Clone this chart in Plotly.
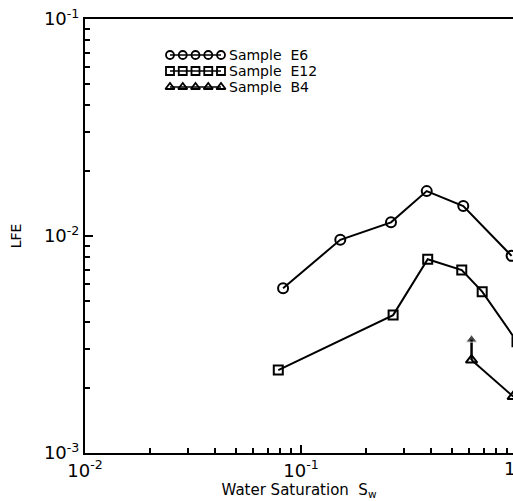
import plotly.graph_objects as go

# --- data ---
e6_x = [0.0826, 0.152, 0.261, 0.382, 0.564, 0.944]
e6_y = [0.00575, 0.0096, 0.01156, 0.0161, 0.01375, 0.0081]

e12_x = [0.0785, 0.267, 0.386, 0.555, 0.690, 1.0]
e12_y = [0.00241, 0.00432, 0.00781, 0.00697, 0.00554, 0.00326]

b4_x = [0.616, 0.96]
b4_y = [0.00268, 0.00182]

# upward arrow above the B4 point (lower bound indicator)
b4_arrow_x = [0.616, 0.616]
b4_arrow_y = [0.00268, 0.00333]

series_names = ["Sample  E6", "Sample  E12", "Sample  B4"]
series_symbols = ["circle-open", "square-open", "triangle-up-open"]

x_tickvals = [0.01, 0.1]
x_ticktext = ["10<sup>-2</sup>", "10<sup>-1</sup>"]
y_tickvals = [0.001, 0.01, 0.1]
y_ticktext = ["10<sup>-3</sup>", "10<sup>-2</sup>", "10<sup>-1</sup>"]

FONT = "DejaVu Sans"
BLACK = "black"

# legend layout (pixel frame of the plot area, used by a hidden overlay axis)
PLOT_L, PLOT_R, PLOT_T, PLOT_B = 85, 513, 19, 453
LEG_SYM_X0, LEG_SYM_X1, LEG_TEXT_X = 170, 221, 227
LEG_ROWS_Y = [55, 71, 87]
LEG_N_SYM = 5

minor_vals = [m * 10 ** e for e in (-3, -2, -1) for m in range(2, 10)]

fig = go.Figure()

data = [(e6_x, e6_y), (e12_x, e12_y), (b4_x, b4_y)]
sizes = [10, 9, 10]
for (xs, ys), name, sym, sz in zip(data, series_names, series_symbols, sizes):
    fig.add_trace(go.Scatter(
        x=xs, y=ys, mode="lines+markers", name=name, showlegend=False,
        line=dict(color=BLACK, width=2),
        marker=dict(symbol=sym, size=sz, color=BLACK, line=dict(width=2)),
    ))

fig.add_trace(go.Scatter(
    x=b4_arrow_x, y=b4_arrow_y, mode="lines+markers", showlegend=False,
    line=dict(color=BLACK, width=2.5),
    marker=dict(symbol=["circle", "triangle-up"], size=[0, 10], color=BLACK),
    hoverinfo="skip",
))

# custom legend: row of five symbols on a line + label
step = (LEG_SYM_X1 - LEG_SYM_X0) / (LEG_N_SYM - 1)
for name, sym, ry in zip(series_names, series_symbols, LEG_ROWS_Y):
    fig.add_trace(go.Scatter(
        x=[LEG_SYM_X0 + i * step for i in range(LEG_N_SYM)],
        y=[ry] * LEG_N_SYM,
        xaxis="x2", yaxis="y2", mode="lines+markers", showlegend=False,
        line=dict(color=BLACK, width=1.5),
        marker=dict(symbol=sym, size=8, color=BLACK, line=dict(width=1.8)),
        hoverinfo="skip",
    ))
    fig.add_annotation(
        x=LEG_TEXT_X, y=ry, xref="x2", yref="y2", text=name, showarrow=False,
        xanchor="left", yanchor="middle",
        font=dict(family=FONT, size=14, color=BLACK),
    )

axis_common = dict(
    type="log",
    showgrid=False,
    zeroline=False,
    showline=True,
    linecolor=BLACK,
    linewidth=2,
    ticks="inside",
    ticklen=8,
    tickwidth=2,
    tickcolor=BLACK,
    tickfont=dict(family=FONT, size=18, color=BLACK),
    minor=dict(ticks="inside", ticklen=5, tickwidth=1.5, tickcolor=BLACK,
               tickmode="array", tickvals=minor_vals, showgrid=False),
)

fig.update_layout(
    xaxis=dict(
        **axis_common,
        mirror=True,
        range=[-2, -0.0185],
        tickmode="array", tickvals=x_tickvals, ticktext=x_ticktext,
        title=dict(text="Water Saturation  S<sub>w</sub>",
                   font=dict(family=FONT, size=15, color=BLACK), standoff=2),
    ),
    yaxis=dict(
        **axis_common,
        mirror=False,
        range=[-3, -1],
        tickmode="array", tickvals=y_tickvals, ticktext=y_ticktext,
        title=dict(text="LFE", font=dict(family=FONT, size=14, color=BLACK), standoff=19),
    ),
    xaxis2=dict(overlaying="x", range=[PLOT_L, PLOT_R], visible=False, anchor="y2"),
    yaxis2=dict(overlaying="y", range=[PLOT_B, PLOT_T], visible=False, anchor="x2"),
    width=513, height=501,
    margin=dict(l=85, r=0, t=19, b=48),
    paper_bgcolor="white",
    plot_bgcolor="white",
    font=dict(family=FONT, color=BLACK),
    showlegend=False,
)

# partially visible "1" label at the right edge of the x axis
fig.add_annotation(
    x=1 + 4 / (PLOT_R - PLOT_L), y=0, xref="paper", yref="paper", yanchor="top",
    yshift=-3, text="1", showarrow=False,
    font=dict(family=FONT, size=18, color=BLACK),
)

fig.write_html("out.html")
